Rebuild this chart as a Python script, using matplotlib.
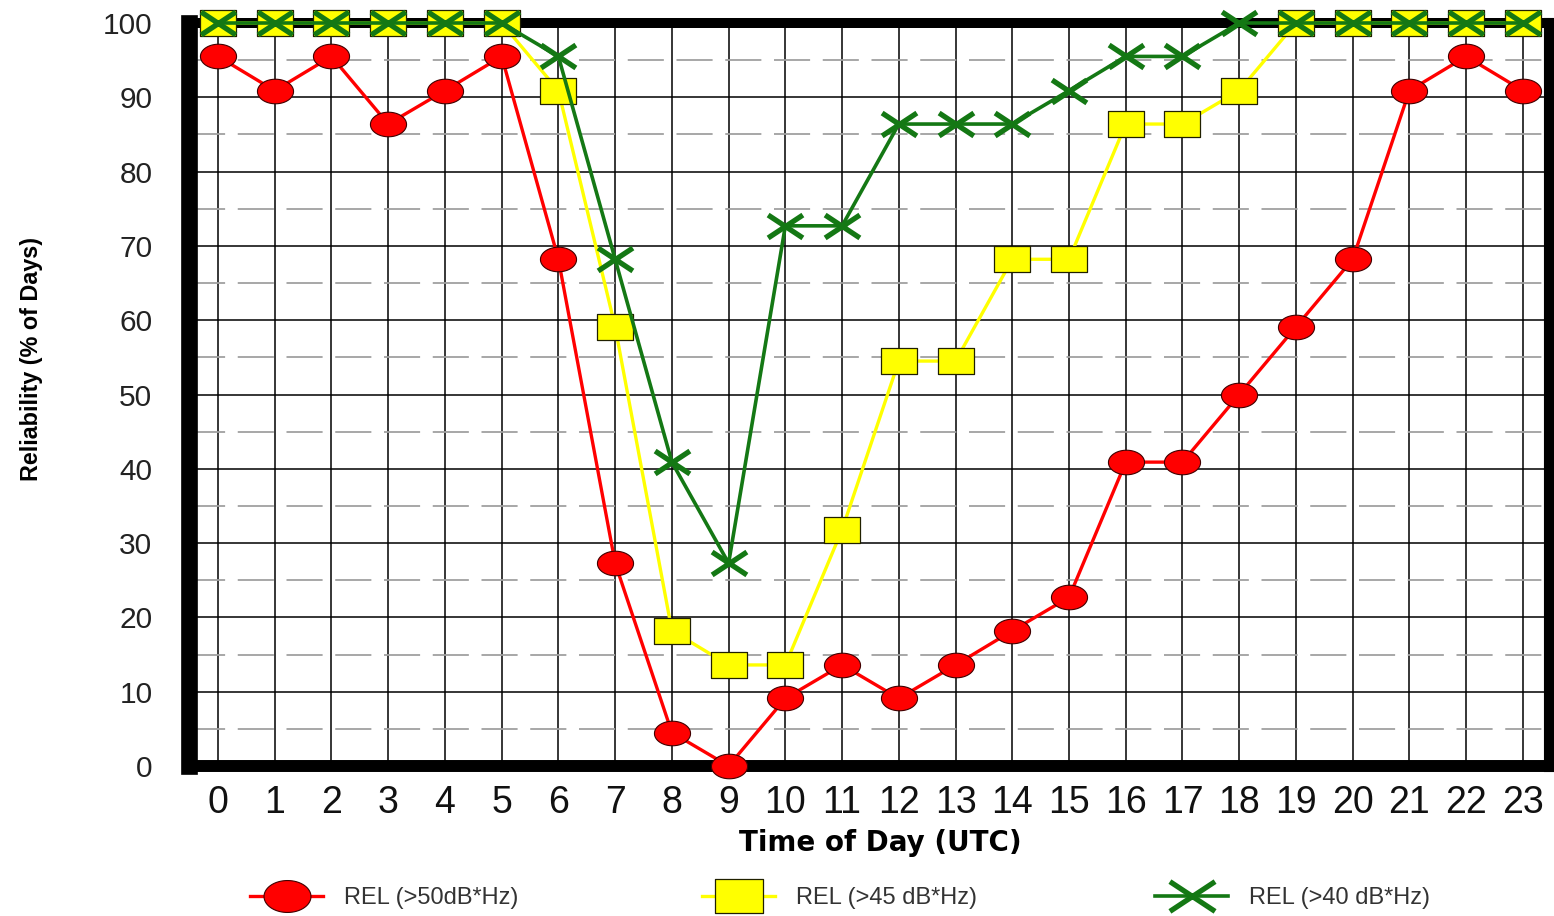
import numpy as np
import matplotlib
matplotlib.use("Agg")
import matplotlib.pyplot as plt
from matplotlib.path import Path

# ---- data ----
hours = list(range(24))
hour_labels = [str(h) for h in hours]
rel50 = [95.5, 90.9, 95.5, 86.4, 90.9, 95.5, 68.2, 27.3, 4.5, 0.0, 9.1, 13.6,
         9.1, 13.6, 18.2, 22.7, 40.9, 40.9, 50.0, 59.1, 68.2, 90.9, 95.5, 90.9]
rel45 = [100, 100, 100, 100, 100, 100, 90.9, 59.1, 18.2, 13.6, 13.6, 31.8,
         54.5, 54.5, 68.2, 68.2, 86.4, 86.4, 90.9, 100, 100, 100, 100, 100]
rel40 = [100, 100, 100, 100, 100, 100, 95.5, 68.2, 40.9, 27.3, 72.7, 72.7,
         86.4, 86.4, 86.4, 90.9, 95.5, 95.5, 100, 100, 100, 100, 100, 100]
series_labels = ["REL (>50dB*Hz)", "REL (>45 dB*Hz)", "REL (>40 dB*Hz)"]
y_ticks = [0, 10, 20, 30, 40, 50, 60, 70, 80, 90, 100]

# ---- marker shapes ----
t = np.linspace(0, 2 * np.pi, 80)
ellipse = Path(np.column_stack([np.cos(t), 0.68 * np.sin(t)]), closed=True)
rect = Path([(-1, -0.7), (1, -0.7), (1, 0.7), (-1, 0.7), (-1, -0.7)], closed=True)
xmark = Path([(-1, -0.66), (1, 0.66), (-1, 0.66), (1, -0.66)],
             [Path.MOVETO, Path.LINETO, Path.MOVETO, Path.LINETO])

RED = "#ff0000"
YEL = "#ffff00"
GRN = "#147814"

W, H = 1554, 916
fig = plt.figure(figsize=(W / 100, H / 100), dpi=100)
ax = fig.add_axes([188.5 / W, 1 - 766 / H, (1549 - 188.5) / W, (766 - 23) / H])

ax.set_xlim(-0.52, 23.46)
ax.set_ylim(0, 100)

# grid
for h in hours:
    ax.axvline(h, color="black", lw=1.1, zorder=1)
for v in range(10, 100, 10):
    ax.axhline(v, color="black", lw=1.1, zorder=1)
for v in range(5, 100, 10):
    ax.axhline(v, color="#a0a0a0", lw=1.3, zorder=1, linestyle=(0, (20, 7)))

l50, = ax.plot(hours, rel50, color=RED, lw=2.4, marker=ellipse, markersize=26,
               markerfacecolor=RED, markeredgecolor="#400000", markeredgewidth=0.8,
               zorder=5, clip_on=False)
l45, = ax.plot(hours, rel45, color=YEL, lw=2.4, marker=rect, markersize=26.5,
               markerfacecolor=YEL, markeredgecolor="#202000", markeredgewidth=0.9,
               zorder=6, clip_on=False)
l40, = ax.plot(hours, rel40, color=GRN, lw=2.6, marker=xmark, markersize=25,
               markerfacecolor=GRN, markeredgecolor=GRN, markeredgewidth=3.8,
               zorder=7, clip_on=False)

# spines
for side, lw in [("left", 12.0), ("bottom", 8.6), ("top", 7.2), ("right", 8.0)]:
    ax.spines[side].set_linewidth(lw)
    ax.spines[side].set_color("black")
    ax.spines[side].set_zorder(4)

ax.set_xticks(hours)
ax.set_xticklabels(hour_labels, family=["Liberation Sans", "DejaVu Sans"],
                   fontsize=27, color="#111111")
ax.set_yticks(y_ticks)
ax.set_yticklabels([str(v) for v in y_ticks], family=["Liberation Sans", "DejaVu Sans"],
                   fontsize=21.5, color="#222222")
ax.tick_params(axis="x", length=0, pad=14)
ax.tick_params(axis="y", length=0, pad=26)

fig.text(880 / W, 1 - 843 / H, "Time of Day (UTC)", ha="center", va="center",
         fontsize=20, fontweight="bold", family=["DejaVu Sans"], color="black")
fig.text(32 / W, 1 - 359 / H, "Reliability (% of Days)", ha="center", va="center",
         rotation=90, fontsize=16.8, fontweight="bold",
         family=["Liberation Sans", "DejaVu Sans"], color="black")

# legend entries
fs_leg = 17
fs_px = fs_leg * 100 / 72
for line, lab, x0 in zip([l50, l45, l40], series_labels, [250, 702, 1155]):
    leg = fig.legend(handles=[line], labels=[lab], loc="center left",
                     bbox_to_anchor=(x0 / W, 1 - 898 / H), frameon=False,
                     borderpad=0, borderaxespad=0, numpoints=1,
                     handlelength=73 / fs_px, handletextpad=21 / fs_px,
                     markerscale=1.3,
                     prop={"family": ["Liberation Sans", "DejaVu Sans"], "size": fs_leg})
    for txt in leg.get_texts():
        txt.set_color("#333333")

fig.savefig("out.png", dpi=100)
